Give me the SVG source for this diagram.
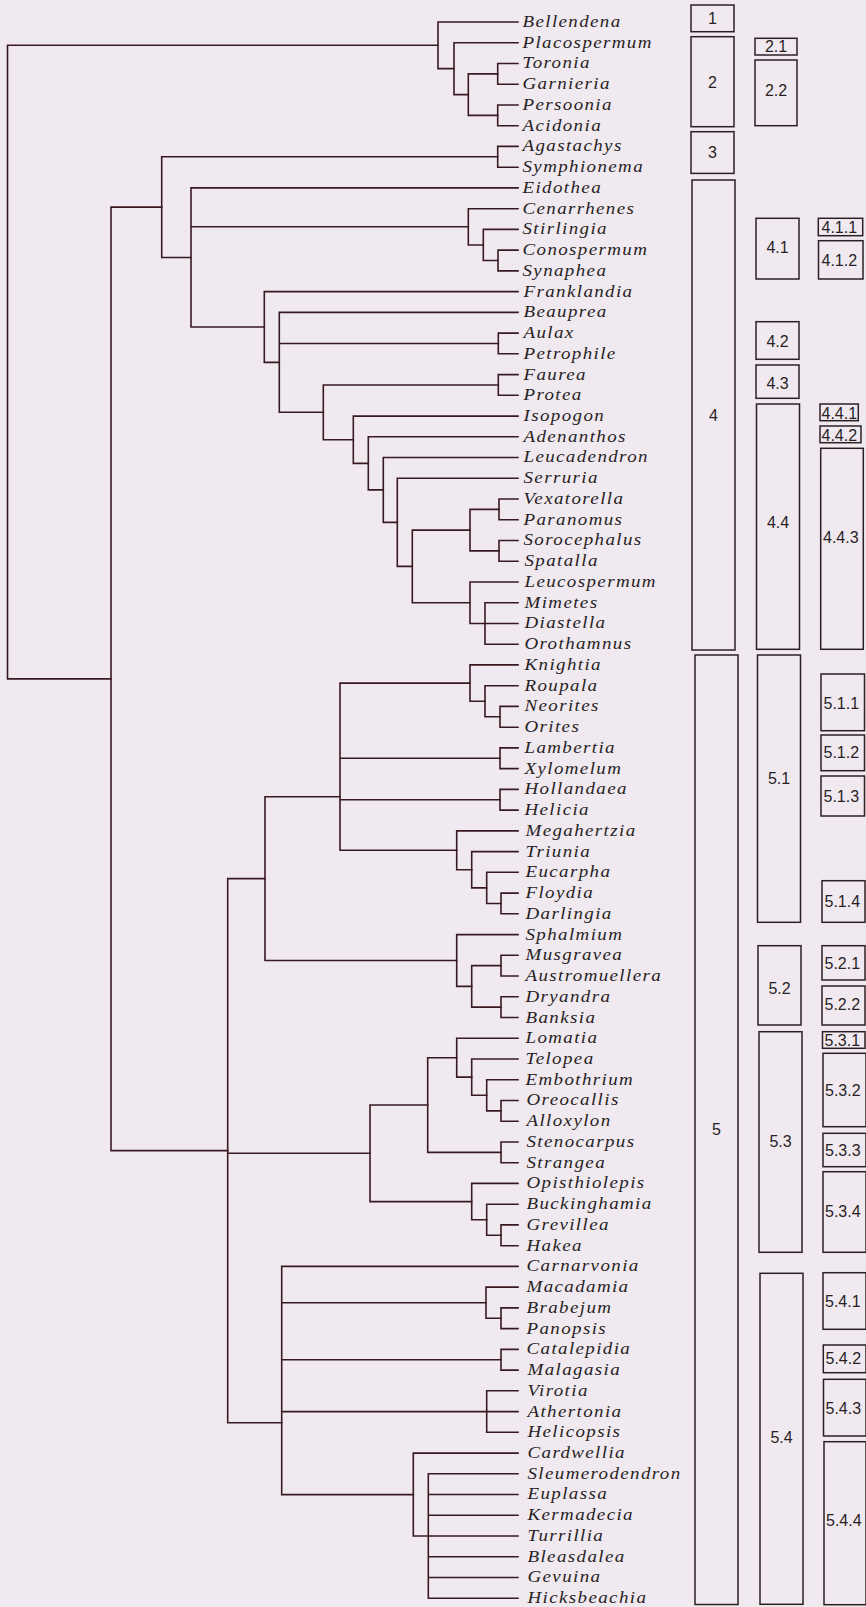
<svg xmlns="http://www.w3.org/2000/svg" width="866" height="1607" viewBox="0 0 866 1607">
<style>
.bg{fill:#f0e9f0}
.c{fill:none;stroke:#3a1a21;stroke-width:1.6;stroke-linecap:square}
.g{font-family:"Liberation Serif",serif;font-style:italic;font-size:16.5px;letter-spacing:1.2px;fill:#281f24}
.b{fill:none;stroke:#2c2025;stroke-width:1.5}
.l{font-family:"Liberation Sans",Arial,sans-serif;font-size:16px;fill:#281f24}
.m{text-anchor:middle}
</style>
<rect class="bg" x="0" y="0" width="866" height="1607"/>
<g id="connectors">
<path class="c" d="M7.5 45.3 V678.9 M7.5 45.3 H438 M7.5 678.9 H111"/>
<path class="c" d="M438 22 V68.65 M438 22 H518 M438 68.65 H454"/>
<path class="c" d="M454 42.7 V94.6 M454 42.7 H518 M454 94.6 H468.3"/>
<path class="c" d="M468.3 73.85 V115.35 M468.3 73.85 H497.7 M468.3 115.35 H497.7"/>
<path class="c" d="M497.7 63.5 V84.2 H518 M497.7 63.5 H518"/>
<path class="c" d="M497.7 105 V125.7 H518 M497.7 105 H518"/>
<path class="c" d="M111 207.1 V1150.65 M111 207.1 H161.7 M111 1150.65 H227.7"/>
<path class="c" d="M161.7 156.8 V257.5 M161.7 156.8 H497.7 M161.7 257.5 H191"/>
<path class="c" d="M497.7 146.4 V167.2 H518 M497.7 146.4 H518"/>
<path class="c" d="M191 187.9 V327 M191 187.9 H518 M191 226.8 H468.3 M191 327 H264.3"/>
<path class="c" d="M468.3 208.7 V244.95 M468.3 208.7 H518 M468.3 244.95 H483.3"/>
<path class="c" d="M483.3 229.4 V260.5 M483.3 229.4 H518 M483.3 260.5 H498"/>
<path class="c" d="M498 250.1 V270.9 H518 M498 250.1 H518"/>
<path class="c" d="M264.3 291.6 V362.4 M264.3 291.6 H518 M264.3 362.4 H279.3"/>
<path class="c" d="M279.3 312.4 V412.3 M279.3 312.4 H518 M279.3 343.45 H498.3 M279.3 412.3 H323.3"/>
<path class="c" d="M498.3 333.1 V353.8 H518 M498.3 333.1 H518"/>
<path class="c" d="M323.3 384.95 V439.7 M323.3 384.95 H498.3 M323.3 439.7 H353.3"/>
<path class="c" d="M498.3 374.6 V395.3 H518 M498.3 374.6 H518"/>
<path class="c" d="M353.3 416.1 V463.4 M353.3 416.1 H518 M353.3 463.4 H368.3"/>
<path class="c" d="M368.3 436.8 V489.9 M368.3 436.8 H518 M368.3 489.9 H383.3"/>
<path class="c" d="M383.3 457.5 V522.35 M383.3 457.5 H518 M383.3 522.35 H397.3"/>
<path class="c" d="M397.3 478.3 V566.4 M397.3 478.3 H518 M397.3 566.4 H412.3"/>
<path class="c" d="M412.3 530.1 V602.7 M412.3 530.1 H470 M412.3 602.7 H470"/>
<path class="c" d="M470 509.4 V550.85 M470 509.4 H499 M470 550.85 H499"/>
<path class="c" d="M499 499 V519.8 H518 M499 499 H518"/>
<path class="c" d="M499 540.5 V561.2 H518 M499 540.5 H518"/>
<path class="c" d="M470 582 V623.45 M470 582 H518 M470 623.45 H485"/>
<path class="c" d="M485 602.7 V644.2 H518 M485 602.7 H518 M485 623.5 H518"/>
<path class="c" d="M227.7 878.6 V1422.7 M227.7 878.6 H265 M227.7 1153.3 H370 M227.7 1422.7 H281.7"/>
<path class="c" d="M265 796.7 V960.5 M265 796.7 H340 M265 960.5 H456.7"/>
<path class="c" d="M340 683.1 V850.3 M340 683.1 H470 M340 758.25 H500 M340 799.75 H500 M340 850.3 H456.7"/>
<path class="c" d="M470 664.9 V701.25 M470 664.9 H518 M470 701.25 H485"/>
<path class="c" d="M485 685.7 V716.8 M485 685.7 H518 M485 716.8 H500"/>
<path class="c" d="M500 706.4 V727.2 H518 M500 706.4 H518"/>
<path class="c" d="M500 747.9 V768.6 H518 M500 747.9 H518"/>
<path class="c" d="M500 789.4 V810.1 H518 M500 789.4 H518"/>
<path class="c" d="M456.7 830.9 V869.7 M456.7 830.9 H518 M456.7 869.7 H471.7"/>
<path class="c" d="M471.7 851.6 V887.9 M471.7 851.6 H518 M471.7 887.9 H486.7"/>
<path class="c" d="M486.7 872.3 V903.45 M486.7 872.3 H518 M486.7 903.45 H501"/>
<path class="c" d="M501 893.1 V913.8 H518 M501 893.1 H518"/>
<path class="c" d="M456.7 934.6 V986.4 M456.7 934.6 H518 M456.7 986.4 H471.7"/>
<path class="c" d="M471.7 965.65 V1007.15 M471.7 965.65 H501 M471.7 1007.15 H501"/>
<path class="c" d="M501 955.3 V976 H518 M501 955.3 H518"/>
<path class="c" d="M501 996.8 V1017.5 H518 M501 996.8 H518"/>
<path class="c" d="M370 1105 V1201.6 M370 1105 H427.7 M370 1201.6 H471.7"/>
<path class="c" d="M427.7 1057.7 V1152.35 M427.7 1057.7 H456.7 M427.7 1152.35 H501"/>
<path class="c" d="M456.7 1038.3 V1077.1 M456.7 1038.3 H518 M456.7 1077.1 H471.7"/>
<path class="c" d="M471.7 1059 V1095.3 M471.7 1059 H518 M471.7 1095.3 H486.7"/>
<path class="c" d="M486.7 1079.7 V1110.85 M486.7 1079.7 H518 M486.7 1110.85 H501"/>
<path class="c" d="M501 1100.5 V1121.2 H518 M501 1100.5 H518"/>
<path class="c" d="M501 1142 V1162.7 H518 M501 1142 H518"/>
<path class="c" d="M471.7 1183.4 V1219.75 M471.7 1183.4 H518 M471.7 1219.75 H486.7"/>
<path class="c" d="M486.7 1204.2 V1235.3 M486.7 1204.2 H518 M486.7 1235.3 H501"/>
<path class="c" d="M501 1224.9 V1245.7 H518 M501 1224.9 H518"/>
<path class="c" d="M281.7 1266.4 V1494.6 M281.7 1266.4 H518 M281.7 1302.7 H486 M281.7 1359.75 H501 M281.7 1411.6 H486.7 M281.7 1494.6 H413.3"/>
<path class="c" d="M486 1287.1 V1318.25 M486 1287.1 H518 M486 1318.25 H501"/>
<path class="c" d="M501 1307.9 V1328.6 H518 M501 1307.9 H518"/>
<path class="c" d="M501 1349.4 V1370.1 H518 M501 1349.4 H518"/>
<path class="c" d="M486.7 1390.8 V1432.3 H518 M486.7 1390.8 H518 M486.7 1411.6 H518"/>
<path class="c" d="M413.3 1453.1 V1536 M413.3 1453.1 H518 M413.3 1536 H428.3"/>
<path class="c" d="M428.3 1473.8 V1598.2 H518 M428.3 1473.8 H518 M428.3 1494.5 H518 M428.3 1515.3 H518 M428.3 1536 H518 M428.3 1556.8 H518 M428.3 1577.5 H518"/>
</g>
<g id="leaves" transform="scale(1.15 1)">
<g id="t0"><text class="g" x="454.35" y="27">Bellendena</text></g>
<g id="t1"><text class="g" x="454.35" y="47.7">Placospermum</text></g>
<g id="t2"><text class="g" x="454.35" y="68.5">Toronia</text></g>
<g id="t3"><text class="g" x="454.35" y="89.2">Garnieria</text></g>
<g id="t4"><text class="g" x="454.35" y="110">Persoonia</text></g>
<g id="t5"><text class="g" x="454.35" y="130.7">Acidonia</text></g>
<g id="t6"><text class="g" x="454.35" y="151.4">Agastachys</text></g>
<g id="t7"><text class="g" x="454.35" y="172.2">Symphionema</text></g>
<g id="t8"><text class="g" x="454.35" y="192.9">Eidothea</text></g>
<g id="t9"><text class="g" x="454.35" y="213.7">Cenarrhenes</text></g>
<g id="t10"><text class="g" x="454.35" y="234.4">Stirlingia</text></g>
<g id="t11"><text class="g" x="454.35" y="255.1">Conospermum</text></g>
<g id="t12"><text class="g" x="454.35" y="275.9">Synaphea</text></g>
<g id="t13"><text class="g" x="455.22" y="296.6">Franklandia</text></g>
<g id="t14"><text class="g" x="455.22" y="317.4">Beauprea</text></g>
<g id="t15"><text class="g" x="455.22" y="338.1">Aulax</text></g>
<g id="t16"><text class="g" x="455.22" y="358.8">Petrophile</text></g>
<g id="t17"><text class="g" x="455.22" y="379.6">Faurea</text></g>
<g id="t18"><text class="g" x="455.22" y="400.3">Protea</text></g>
<g id="t19"><text class="g" x="455.22" y="421.1">Isopogon</text></g>
<g id="t20"><text class="g" x="455.22" y="441.8">Adenanthos</text></g>
<g id="t21"><text class="g" x="455.22" y="462.5">Leucadendron</text></g>
<g id="t22"><text class="g" x="455.22" y="483.3">Serruria</text></g>
<g id="t23"><text class="g" x="455.22" y="504">Vexatorella</text></g>
<g id="t24"><text class="g" x="455.22" y="524.8">Paranomus</text></g>
<g id="t25"><text class="g" x="455.22" y="545.5">Sorocephalus</text></g>
<g id="t26"><text class="g" x="456.09" y="566.2">Spatalla</text></g>
<g id="t27"><text class="g" x="456.09" y="587">Leucospermum</text></g>
<g id="t28"><text class="g" x="456.09" y="607.7">Mimetes</text></g>
<g id="t29"><text class="g" x="456.09" y="628.5">Diastella</text></g>
<g id="t30"><text class="g" x="456.09" y="649.2">Orothamnus</text></g>
<g id="t31"><text class="g" x="456.09" y="669.9">Knightia</text></g>
<g id="t32"><text class="g" x="456.09" y="690.7">Roupala</text></g>
<g id="t33"><text class="g" x="456.09" y="711.4">Neorites</text></g>
<g id="t34"><text class="g" x="456.09" y="732.2">Orites</text></g>
<g id="t35"><text class="g" x="456.09" y="752.9">Lambertia</text></g>
<g id="t36"><text class="g" x="456.09" y="773.6">Xylomelum</text></g>
<g id="t37"><text class="g" x="456.09" y="794.4">Hollandaea</text></g>
<g id="t38"><text class="g" x="456.09" y="815.1">Helicia</text></g>
<g id="t39"><text class="g" x="456.96" y="835.9">Megahertzia</text></g>
<g id="t40"><text class="g" x="456.96" y="856.6">Triunia</text></g>
<g id="t41"><text class="g" x="456.96" y="877.3">Eucarpha</text></g>
<g id="t42"><text class="g" x="456.96" y="898.1">Floydia</text></g>
<g id="t43"><text class="g" x="456.96" y="918.8">Darlingia</text></g>
<g id="t44"><text class="g" x="456.96" y="939.6">Sphalmium</text></g>
<g id="t45"><text class="g" x="456.96" y="960.3">Musgravea</text></g>
<g id="t46"><text class="g" x="456.96" y="981">Austromuellera</text></g>
<g id="t47"><text class="g" x="456.96" y="1001.8">Dryandra</text></g>
<g id="t48"><text class="g" x="456.96" y="1022.5">Banksia</text></g>
<g id="t49"><text class="g" x="456.96" y="1043.3">Lomatia</text></g>
<g id="t50"><text class="g" x="456.96" y="1064">Telopea</text></g>
<g id="t51"><text class="g" x="456.96" y="1084.7">Embothrium</text></g>
<g id="t52"><text class="g" x="457.83" y="1105.5">Oreocallis</text></g>
<g id="t53"><text class="g" x="457.83" y="1126.2">Alloxylon</text></g>
<g id="t54"><text class="g" x="457.83" y="1147">Stenocarpus</text></g>
<g id="t55"><text class="g" x="457.83" y="1167.7">Strangea</text></g>
<g id="t56"><text class="g" x="457.83" y="1188.4">Opisthiolepis</text></g>
<g id="t57"><text class="g" x="457.83" y="1209.2">Buckinghamia</text></g>
<g id="t58"><text class="g" x="457.83" y="1229.9">Grevillea</text></g>
<g id="t59"><text class="g" x="457.83" y="1250.7">Hakea</text></g>
<g id="t60"><text class="g" x="457.83" y="1271.4">Carnarvonia</text></g>
<g id="t61"><text class="g" x="457.83" y="1292.1">Macadamia</text></g>
<g id="t62"><text class="g" x="457.83" y="1312.9">Brabejum</text></g>
<g id="t63"><text class="g" x="457.83" y="1333.6">Panopsis</text></g>
<g id="t64"><text class="g" x="457.83" y="1354.4">Catalepidia</text></g>
<g id="t65"><text class="g" x="458.7" y="1375.1">Malagasia</text></g>
<g id="t66"><text class="g" x="458.7" y="1395.8">Virotia</text></g>
<g id="t67"><text class="g" x="458.7" y="1416.6">Athertonia</text></g>
<g id="t68"><text class="g" x="458.7" y="1437.3">Helicopsis</text></g>
<g id="t69"><text class="g" x="458.7" y="1458.1">Cardwellia</text></g>
<g id="t70"><text class="g" x="458.7" y="1478.8">Sleumerodendron</text></g>
<g id="t71"><text class="g" x="458.7" y="1499.5">Euplassa</text></g>
<g id="t72"><text class="g" x="458.7" y="1520.3">Kermadecia</text></g>
<g id="t73"><text class="g" x="458.7" y="1541">Turrillia</text></g>
<g id="t74"><text class="g" x="458.7" y="1561.8">Bleasdalea</text></g>
<g id="t75"><text class="g" x="458.7" y="1582.5">Gevuina</text></g>
<g id="t76"><text class="g" x="458.7" y="1603.2">Hicksbeachia</text></g>
</g>
<g id="boxes1">
<g id="box-1"><rect class="b" x="691" y="5" width="43" height="26.7"/><text class="l m" x="712.5" y="24">1</text></g>
<g id="box-2"><rect class="b" x="691" y="36.7" width="43" height="90"/><text class="l m" x="712.5" y="87.5">2</text></g>
<g id="box-3"><rect class="b" x="691" y="131.7" width="43" height="41.7"/><text class="l m" x="712.5" y="158.3">3</text></g>
<g id="box-4"><rect class="b" x="692" y="180" width="43" height="470"/><text class="l m" x="713.5" y="420.8">4</text></g>
<g id="box-5"><rect class="b" x="695" y="655" width="43" height="949.5"/><text class="l m" x="716.5" y="1134.8">5</text></g>
</g>
<g id="boxes2">
<g id="box-2-1"><rect class="b" x="755" y="38.3" width="42" height="16.7"/><text class="l m" x="776" y="52.4">2.1</text></g>
<g id="box-2-2"><rect class="b" x="755" y="60" width="42" height="65.7"/><text class="l m" x="776" y="95.8">2.2</text></g>
<g id="box-4-1"><rect class="b" x="756" y="218.3" width="43" height="60.7"/><text class="l m" x="777.5" y="252.8">4.1</text></g>
<g id="box-4-2"><rect class="b" x="756" y="321.7" width="43" height="37.6"/><text class="l m" x="777.5" y="346.8">4.2</text></g>
<g id="box-4-3"><rect class="b" x="756" y="365" width="43" height="33.3"/><text class="l m" x="777.5" y="388.8">4.3</text></g>
<g id="box-4-4"><rect class="b" x="756.5" y="404" width="43" height="245.3"/><text class="l m" x="778" y="527.8">4.4</text></g>
<g id="box-5-1"><rect class="b" x="757.5" y="655" width="43" height="267.3"/><text class="l m" x="779" y="783.8">5.1</text></g>
<g id="box-5-2"><rect class="b" x="758" y="945.7" width="43" height="79.3"/><text class="l m" x="779.5" y="993.8">5.2</text></g>
<g id="box-5-3"><rect class="b" x="759" y="1031.7" width="43" height="220.6"/><text class="l m" x="780.5" y="1146.8">5.3</text></g>
<g id="box-5-4"><rect class="b" x="760" y="1273.3" width="43" height="331"/><text class="l m" x="781.5" y="1442.8">5.4</text></g>
</g>
<g id="boxes3">
<g id="box-4-1-1"><rect class="b" x="818.3" y="218.3" width="44.4" height="17.4"/><text class="l" x="821.5" y="232.8">4.1.1</text></g>
<g id="box-4-1-2"><rect class="b" x="818.5" y="240.7" width="44.5" height="38.3"/><text class="l" x="821.5" y="265.8">4.1.2</text></g>
<g id="box-4-4-1"><rect class="b" x="820" y="404" width="38.3" height="16.7"/><text class="l" x="821.5" y="418.6">4.4.1</text></g>
<g id="box-4-4-2"><rect class="b" x="820" y="426" width="41" height="16.7"/><text class="l" x="821.5" y="440.6">4.4.2</text></g>
<g id="box-4-4-3"><rect class="b" x="820.7" y="448.3" width="42.6" height="201"/><text class="l" x="823" y="542.8">4.4.3</text></g>
<g id="box-5-1-1"><rect class="b" x="821" y="674" width="43.5" height="56.7"/><text class="l" x="823.5" y="708.8">5.1.1</text></g>
<g id="box-5-1-2"><rect class="b" x="821" y="735" width="43.5" height="35.7"/><text class="l" x="823.5" y="757.8">5.1.2</text></g>
<g id="box-5-1-3"><rect class="b" x="821" y="776" width="43.5" height="40"/><text class="l" x="823.5" y="801.8">5.1.3</text></g>
<g id="box-5-1-4"><rect class="b" x="822" y="880.7" width="43" height="41.6"/><text class="l" x="824.5" y="907.3">5.1.4</text></g>
<g id="box-5-2-1"><rect class="b" x="822" y="945.7" width="43" height="34.3"/><text class="l" x="824.5" y="968.8">5.2.1</text></g>
<g id="box-5-2-2"><rect class="b" x="822" y="986" width="43" height="39"/><text class="l" x="824.5" y="1009.8">5.2.2</text></g>
<g id="box-5-3-1"><rect class="b" x="822.5" y="1031.7" width="42.5" height="16.6"/><text class="l" x="824.5" y="1045.8">5.3.1</text></g>
<g id="box-5-3-2"><rect class="b" x="823" y="1053.3" width="43" height="73.4"/><text class="l" x="825" y="1095.8">5.3.2</text></g>
<g id="box-5-3-3"><rect class="b" x="823" y="1133.3" width="43" height="33.4"/><text class="l" x="825" y="1155.8">5.3.3</text></g>
<g id="box-5-3-4"><rect class="b" x="823" y="1171.7" width="43" height="80.6"/><text class="l" x="825" y="1217.3">5.3.4</text></g>
<g id="box-5-4-1"><rect class="b" x="823" y="1272.7" width="43" height="56.6"/><text class="l" x="825" y="1307.3">5.4.1</text></g>
<g id="box-5-4-2"><rect class="b" x="823.3" y="1345" width="42.7" height="27.7"/><text class="l" x="825.5" y="1364.1">5.4.2</text></g>
<g id="box-5-4-3"><rect class="b" x="823.5" y="1379.3" width="42.5" height="56.7"/><text class="l" x="825.5" y="1414.1">5.4.3</text></g>
<g id="box-5-4-4"><rect class="b" x="824" y="1441.7" width="42" height="163"/><text class="l" x="826" y="1526.3">5.4.4</text></g>
</g>
</svg>
